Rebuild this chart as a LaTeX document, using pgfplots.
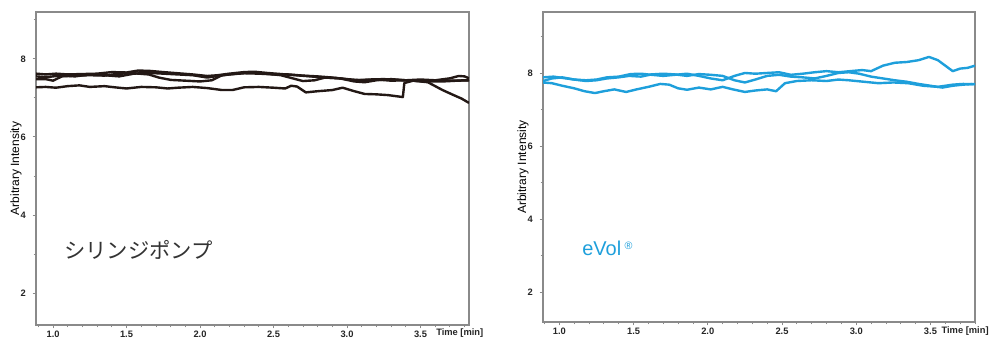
\documentclass[border=0pt]{standalone}
\usepackage{fontspec}
\setmainfont{Liberation Sans}
\newfontfamily\cjk{Noto Sans CJK JP}
\usepackage{pgfplots}
\pgfplotsset{compat=1.18}
\definecolor{inkblack}{HTML}{231815}
\definecolor{evolblue}{HTML}{1E9FDB}
\definecolor{axgray}{HTML}{8A8A8A}
\tikzset{
  lk/.style={inkblack, line width=1.8pt, line join=round, mark=none},
  lb/.style={evolblue, line width=1.8pt, line join=round, mark=none},
}
\pgfplotsset{
  common/.style={
    scale only axis,
    axis line style={axgray, line width=0.8pt},
    tick style={axgray, line width=0.6pt},
    tick align=outside,
    major tick length=2.5pt,
    minor tick length=1.8pt,
    xtick pos=bottom, ytick pos=left,
    /pgf/number format/assume math mode=true,
    tick label style={font=\fontsize{7}{8}\selectfont\bfseries, text=black!85},
    xticklabel style={inner sep=0pt, yshift=-1.5pt},
    yticklabel style={inner sep=0pt, xshift=-5pt},
    ytick={2,4,6,8}, minor ytick={3,5,7,9},
    xtick={1.0,1.5,2.0,2.5,3.0,3.5},
    xticklabels={1.0,1.5,2.0,2.5,3.0,3.5},
    minor xtick={0.9,1.1,1.2,1.3,1.4,1.6,1.7,1.8,1.9,2.1,2.2,2.3,2.4,2.6,2.7,2.8,2.9,3.1,3.2,3.3,3.4,3.6,3.7,3.8},
    ylabel={Arbitrary Intensity},
    ylabel style={font=\fontsize{9}{10}\selectfont, inner sep=0pt},
    ylabel shift=-1pt,
    clip=true,
  }
}
\begin{document}
\begin{tikzpicture}
\useasboundingbox (0,0) rectangle (742.5pt,253.5pt);
% Left axis
\begin{axis}[common,
  at={(27pt,9.75pt)}, anchor=south west,
  width=324.75pt, height=234.75pt,
  xmin=0.884, xmax=3.83, ymin=1.18, ymax=9.2,
]
\addplot[lk] coordinates {(0.884,7.27)(0.95,7.28)(1.02,7.26)(1.1,7.30)(1.18,7.32)(1.25,7.28)(1.35,7.30)(1.42,7.27)(1.5,7.24)(1.6,7.28)(1.7,7.27)(1.78,7.24)(1.85,7.26)(1.95,7.28)(2.05,7.25)(2.15,7.20)(2.22,7.20)(2.3,7.27)(2.4,7.28)(2.5,7.26)(2.58,7.24)(2.62,7.31)(2.66,7.29)(2.72,7.14)(2.8,7.17)(2.9,7.20)(2.97,7.26)(3.05,7.17)(3.12,7.10)(3.2,7.09)(3.28,7.07)(3.38,7.02)(3.39,7.38)(3.45,7.44)(3.55,7.42)(3.65,7.42)(3.75,7.44)(3.83,7.45)};
\addplot[lk] coordinates {(0.884,7.62)(0.95,7.60)(1.02,7.62)(1.1,7.60)(1.2,7.61)(1.3,7.62)(1.4,7.66)(1.5,7.65)(1.58,7.70)(1.66,7.69)(1.75,7.66)(1.85,7.63)(1.95,7.60)(2.05,7.56)(2.12,7.58)(2.2,7.62)(2.3,7.66)(2.37,7.67)(2.45,7.64)(2.55,7.61)(2.65,7.58)(2.75,7.55)(2.85,7.52)(2.95,7.50)(3.05,7.42)(3.12,7.40)(3.2,7.45)(3.3,7.48)(3.4,7.45)(3.5,7.43)(3.6,7.45)(3.7,7.50)(3.76,7.56)(3.8,7.55)(3.83,7.50)};
\addplot[lk] coordinates {(0.884,7.48)(0.95,7.48)(1.0,7.44)(1.06,7.55)(1.15,7.57)(1.25,7.58)(1.35,7.57)(1.45,7.62)(1.55,7.63)(1.65,7.60)(1.72,7.52)(1.8,7.46)(1.9,7.44)(2.0,7.42)(2.08,7.45)(2.15,7.58)(2.25,7.62)(2.35,7.65)(2.45,7.62)(2.55,7.58)(2.63,7.50)(2.7,7.43)(2.78,7.45)(2.85,7.52)(2.95,7.50)(3.05,7.45)(3.15,7.47)(3.25,7.48)(3.35,7.46)(3.45,7.44)(3.55,7.40)(3.6,7.30)(3.65,7.20)(3.72,7.08)(3.78,6.98)(3.83,6.87)};
\addplot[lk] coordinates {(0.884,7.55)(0.95,7.53)(1.05,7.57)(1.15,7.55)(1.25,7.60)(1.35,7.58)(1.45,7.55)(1.55,7.62)(1.65,7.64)(1.75,7.62)(1.85,7.60)(1.95,7.58)(2.05,7.52)(2.1,7.55)(2.2,7.60)(2.3,7.63)(2.4,7.62)(2.5,7.60)(2.6,7.60)(2.7,7.57)(2.8,7.55)(2.9,7.52)(3.0,7.48)(3.1,7.45)(3.2,7.47)(3.3,7.44)(3.4,7.45)(3.5,7.47)(3.6,7.45)(3.7,7.44)(3.83,7.45)};
\end{axis}
% Right axis
\begin{axis}[common,
  at={(407.25pt,12pt)}, anchor=south west,
  width=324pt, height=232.5pt,
  xmin=0.89, xmax=3.80, ymin=1.18, ymax=9.67,
]
\addplot[lb] coordinates {(0.89,7.74)(0.95,7.72)(1.02,7.65)(1.1,7.58)(1.17,7.50)(1.24,7.45)(1.3,7.50)(1.37,7.55)(1.45,7.48)(1.52,7.55)(1.6,7.62)(1.68,7.70)(1.74,7.68)(1.8,7.58)(1.86,7.54)(1.94,7.60)(2.02,7.55)(2.1,7.62)(2.17,7.55)(2.25,7.48)(2.32,7.52)(2.4,7.55)(2.46,7.50)(2.52,7.72)(2.6,7.78)(2.7,7.80)(2.8,7.78)(2.88,7.82)(2.95,7.80)(3.05,7.76)(3.15,7.72)(3.25,7.74)(3.35,7.72)(3.45,7.65)(3.55,7.62)(3.65,7.68)(3.72,7.70)(3.8,7.69)};
\addplot[lb] coordinates {(0.89,7.78)(0.95,7.85)(1.02,7.88)(1.1,7.82)(1.18,7.80)(1.25,7.82)(1.32,7.88)(1.4,7.90)(1.48,7.97)(1.55,7.98)(1.62,7.95)(1.7,7.92)(1.78,7.95)(1.86,7.98)(1.94,7.92)(2.02,7.85)(2.1,7.80)(2.18,7.92)(2.25,8.00)(2.32,7.98)(2.4,8.00)(2.48,8.02)(2.56,7.95)(2.64,7.98)(2.72,8.02)(2.8,8.05)(2.88,8.02)(2.96,8.05)(3.04,8.08)(3.1,8.05)(3.18,8.20)(3.26,8.28)(3.34,8.30)(3.42,8.35)(3.49,8.44)(3.55,8.35)(3.6,8.20)(3.65,8.05)(3.7,8.12)(3.75,8.14)(3.8,8.20)};
\addplot[lb] coordinates {(0.89,7.88)(0.96,7.90)(1.03,7.86)(1.1,7.82)(1.18,7.78)(1.25,7.80)(1.32,7.85)(1.4,7.88)(1.47,7.92)(1.55,7.90)(1.62,7.96)(1.7,7.98)(1.78,7.96)(1.86,7.92)(1.94,7.97)(2.02,7.95)(2.1,7.92)(2.18,7.80)(2.25,7.74)(2.32,7.82)(2.4,7.92)(2.48,7.95)(2.56,7.90)(2.64,7.88)(2.72,7.85)(2.8,7.92)(2.88,8.00)(2.95,8.02)(3.02,7.98)(3.1,7.90)(3.18,7.85)(3.26,7.80)(3.34,7.76)(3.42,7.70)(3.5,7.65)(3.58,7.60)(3.65,7.65)(3.72,7.68)(3.8,7.70)};
\end{axis}
% Annotations and axis titles
\node[anchor=west, inner sep=0pt, font=\cjk\fontsize{16}{18}\selectfont, text=black!80] at (48pt,66pt) {シリンジポンプ};
\node[anchor=west, inner sep=0pt, font=\fontsize{15}{17}\selectfont, text=evolblue] at (436.5pt,67pt) {eVol\hspace{2.5pt}\raisebox{0.6ex}{\fontsize{8}{9}\selectfont ®}};
\node[anchor=west, inner sep=0pt, font=\fontsize{7}{8}\selectfont\bfseries, text=black!85] at (327pt,3.5pt) {Time [min]};
\node[anchor=west, inner sep=0pt, font=\fontsize{7}{8}\selectfont\bfseries, text=black!85] at (706pt,5pt) {Time [min]};
\end{tikzpicture}
\end{document}
